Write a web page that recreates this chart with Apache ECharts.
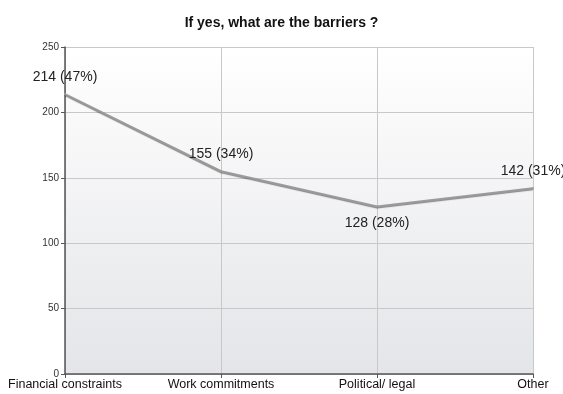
<!DOCTYPE html>
<html><head><meta charset="utf-8">
<script src="https://cdn.jsdelivr.net/npm/echarts@6/dist/echarts.min.js"></script>
<style>html,body{margin:0;padding:0;background:#fff}#c{width:563px;height:394px}</style>
</head><body><div id="c"></div>
<script>
const categories = ['Financial constraints', 'Work commitments', 'Political/ legal', 'Other'];
const counts = [214, 155, 128, 142];
const percents = [47, 34, 28, 31];
const labelPositions = ['top', 'top', 'bottom', 'top'];
const yTicks = [0, 50, 100, 150, 200, 250];

const chart = echarts.init(document.getElementById('c'));
chart.setOption({
  animation: false,
  textStyle: { fontFamily: 'Liberation Sans, Arial, sans-serif' },
  title: {
    text: 'If yes, what are the barriers ?',
    left: 'center', top: 11,
    textStyle: { fontSize: 14, fontWeight: 'bold', color: '#111', fontFamily: 'Liberation Sans, Arial, sans-serif' }
  },
  grid: {
    left: 65, right: 30, top: 47, bottom: 20, show: true, borderWidth: 0,
    backgroundColor: new echarts.graphic.LinearGradient(0, 0, 0, 1, [
      { offset: 0, color: '#ffffff' }, { offset: 1, color: '#e4e5e8' }
    ])
  },
  xAxis: {
    type: 'category', boundaryGap: false, data: categories,
    axisLine: { lineStyle: { color: '#555', width: 1.5 } },
    axisTick: { show: true, alignWithLabel: true, length: 4, lineStyle: { color: '#555' } },
    axisLabel: { color: '#111', fontSize: 12.5, margin: 4, interval: 0 },
    splitLine: { show: true, lineStyle: { color: '#c8c8c8' } }
  },
  yAxis: {
    type: 'value', min: yTicks[0], max: yTicks[yTicks.length - 1], interval: 50,
    axisLine: { show: true, lineStyle: { color: '#555', width: 1.5 } },
    axisTick: { show: true, length: 4, lineStyle: { color: '#555' } },
    axisLabel: { color: '#333', fontSize: 10, margin: 6 },
    splitLine: { show: true, lineStyle: { color: '#c8c8c8' } }
  },
  series: [{
    type: 'line',
    data: counts.map((v, i) => ({
      value: v,
      label: { show: true, position: labelPositions[i] }
    })),
    showSymbol: true, symbol: 'circle', symbolSize: 2,
    itemStyle: { color: '#9a9a9a' },
    lineStyle: { color: '#9a9a9a', width: 2, shadowColor: 'rgba(0,0,0,0.45)', shadowBlur: 1, shadowOffsetY: 1 },
    label: {
      show: true, fontSize: 14, color: '#222', distance: 9,
      formatter: p => counts[p.dataIndex] + ' (' + percents[p.dataIndex] + '%)'
    },
    labelLayout: { hideOverlap: false }
  }]
});
</script></body></html>
